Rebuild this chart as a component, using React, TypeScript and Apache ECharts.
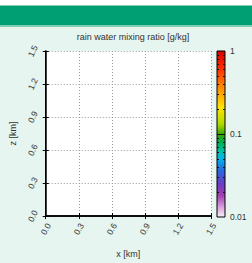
import React, { useEffect, useRef } from "react";
import * as echarts from "echarts";

const titleText = "rain water mixing ratio [g/kg]";
const xName = "x [km]";
const zName = "z [km]";
const axisMin = 0;
const axisMax = 1.5;
const axisStep = 0.3;
const cbarMin = 0.01;
const cbarMax = 1;
const cbarLabels = [0.01, 0.1, 1];
const cbarMinorTicks = [0.02, 0.03, 0.04, 0.05, 0.06, 0.07, 0.08, 0.09, 0.2, 0.3, 0.4, 0.5, 0.6, 0.7, 0.8, 0.9];
const cbarMajorTicks = [0.1];
const cbarStops: [number, string][] = [
  [0, "#d80000"],
  [0.1, "#ff2a00"],
  [0.22, "#ff8a00"],
  [0.34, "#ffe600"],
  [0.44, "#b0da00"],
  [0.5, "#3ca800"],
  [0.55, "#00b050"],
  [0.6, "#00c0a0"],
  [0.65, "#00b4f0"],
  [0.72, "#2868e0"],
  [0.8, "#6a3cc8"],
  [0.87, "#a040b0"],
  [0.94, "#d8a0dc"],
  [1, "#f8f0f8"],
];

const FONT = "Liberation Sans";

export default function App() {
  const ref = useRef<HTMLDivElement>(null);
  useEffect(() => {
    if (!ref.current) return;
    const chart = echarts.init(ref.current, undefined, { renderer: "svg" });
    const lblFmt = (v: number) => v.toFixed(1);
    const baseAxis = {
      type: "value" as const,
      min: axisMin,
      max: axisMax,
      interval: axisStep,
      axisLine: { show: true, lineStyle: { color: "#000", width: 1.5 } },
      axisTick: { show: true, inside: false, length: 3, lineStyle: { color: "#000", width: 1 } },
      splitLine: { show: false },
    };
    const tickData = [
      ...cbarMinorTicks.map((v) => [0, v, 0]),
      ...cbarMajorTicks.map((v) => [0, v, 1]),
    ];
    chart.setOption({
      animation: false,
      backgroundColor: "#e6f5ef",
      textStyle: { fontFamily: FONT },
      title: {
        text: titleText,
        left: 128,
        textAlign: "center",
        top: 27,
        textStyle: { fontSize: 9, fontWeight: "normal", color: "#333", fontFamily: FONT },
      },
      graphic: [
        { type: "rect", shape: { x: 0, y: 0, width: 252, height: 5 }, style: { fill: "#ffffff" }, silent: true },
        { type: "rect", shape: { x: 0, y: 5, width: 252, height: 22 }, style: { fill: "#7fd0b2" }, silent: true },
        { type: "rect", shape: { x: 0, y: 6, width: 252, height: 19 }, style: { fill: "#009e73" }, silent: true },
      ],
      grid: [
        { left: 45, top: 51, width: 166, height: 166, show: true, backgroundColor: "#ffffff", borderWidth: 0 },
        {
          left: 217,
          top: 51,
          width: 8,
          height: 166,
          show: true,
          borderColor: "#000",
          borderWidth: 1,
          backgroundColor: new echarts.graphic.LinearGradient(
            0, 0, 0, 1,
            cbarStops.map(([offset, color]) => ({ offset, color }))
          ),
        },
      ],
      xAxis: [
        {
          ...baseAxis,
          gridIndex: 0,
          position: "bottom",
          name: xName,
          nameLocation: "middle",
          nameGap: 33,
          nameTextStyle: { fontSize: 9, color: "#333", fontFamily: FONT },
          axisLabel: {
            rotate: 60,
            align: "center",
            verticalAlign: "middle",
            margin: 13,
            fontSize: 8.5,
            color: "#333",
            fontFamily: FONT,
            formatter: lblFmt,
          },
          splitLine: { show: true, lineStyle: { color: "#999", type: [1, 2], width: 1 } },
        },
        {
          ...baseAxis,
          gridIndex: 0,
          position: "top",
          axisLabel: { show: false },
        },
        { type: "value", gridIndex: 1, min: 0, max: 1, show: false },
      ],
      yAxis: [
        {
          ...baseAxis,
          gridIndex: 0,
          position: "left",
          name: zName,
          nameLocation: "middle",
          nameGap: 25,
          nameRotate: 90,
          nameTextStyle: { fontSize: 9, color: "#333", fontFamily: FONT },
          axisLabel: {
            rotate: 65,
            align: "center",
            verticalAlign: "middle",
            margin: 13,
            fontSize: 8.5,
            color: "#333",
            fontFamily: FONT,
            formatter: lblFmt,
          },
          splitLine: { show: true, lineStyle: { color: "#999", type: [1, 2], width: 1 } },
        },
        {
          ...baseAxis,
          gridIndex: 0,
          position: "right",
          axisLine: { show: true, lineStyle: { color: "#000", width: 1 } },
          axisLabel: { show: false },
        },
        {
          type: "log",
          gridIndex: 1,
          logBase: 10,
          min: cbarMin,
          max: cbarMax,
          position: "right",
          axisLine: { show: false },
          axisTick: { show: false },
          splitLine: { show: false },
          axisLabel: {
            margin: 5,
            fontSize: 8.5,
            color: "#333",
            fontFamily: FONT,
            formatter: (v: number) => {
              const m = cbarLabels.find((c) => Math.abs(c - v) / c < 1e-6);
              return m !== undefined ? String(m) : "";
            },
          },
        },
      ],
      series: [
        {
          type: "custom",
          xAxisIndex: 2,
          yAxisIndex: 2,
          coordinateSystem: "cartesian2d",
          encode: { x: 0, y: 1 },
          data: tickData,
          silent: true,
          renderItem: (params: any, api: any) => {
            const v = api.value(1);
            const major = api.value(2) === 1;
            const pl = api.coord([0, v]);
            const pr = api.coord([1, v]);
            const y = Math.round(pl[1]) + 0.5;
            const style = { stroke: "#111", lineWidth: 1 };
            if (major) {
              return {
                type: "line",
                shape: { x1: pl[0], y1: y, x2: pr[0], y2: y },
                style,
              };
            }
            return {
              type: "group",
              children: [
                { type: "line", shape: { x1: pl[0], y1: y, x2: pl[0] + 2, y2: y }, style },
                { type: "line", shape: { x1: pr[0] - 2, y1: y, x2: pr[0], y2: y }, style },
              ],
            };
          },
        },
      ],
    });
    return () => chart.dispose();
  }, []);
  return (
    <div
      ref={ref}
      style={{ position: "fixed", left: 0, top: 0, width: 252, height: 263 }}
    />
  );
}
